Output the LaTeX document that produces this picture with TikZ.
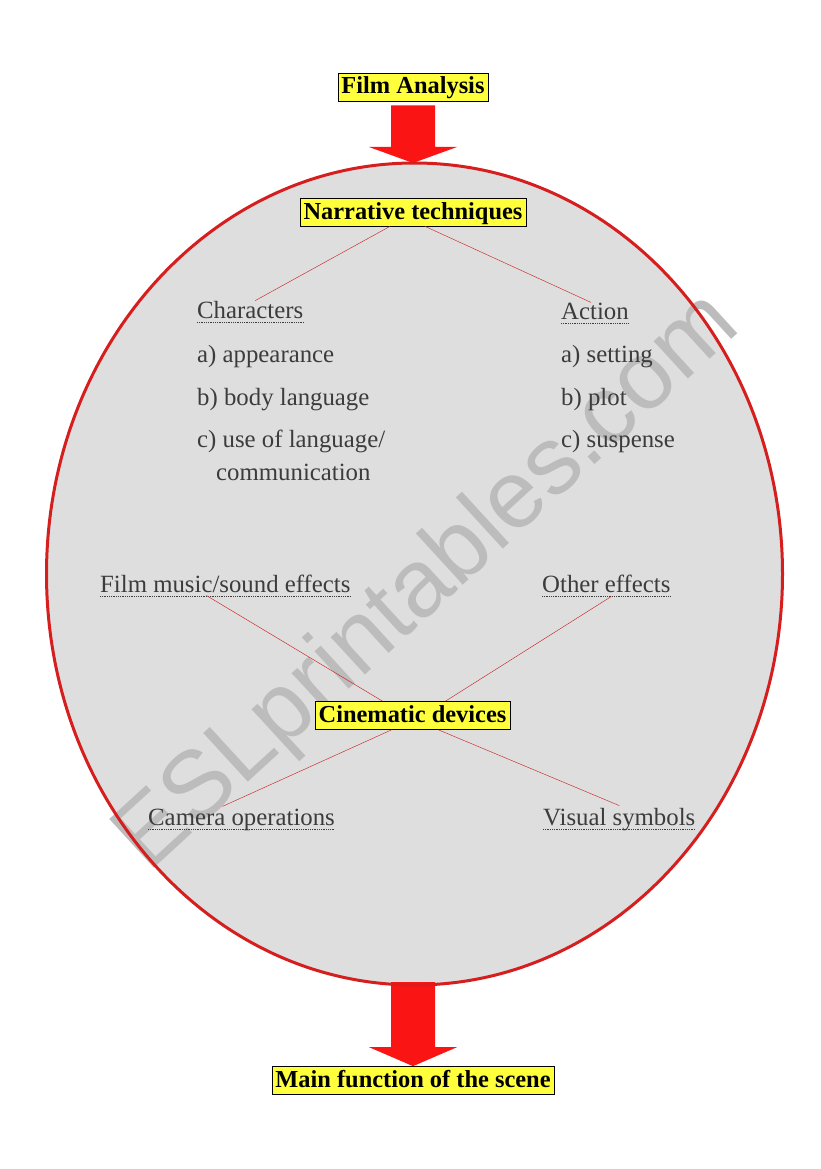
\documentclass[tikz,border=0pt]{standalone}
\usepackage{fontspec}
\setmainfont{Liberation Serif}
\newfontfamily\wmfont{Liberation Sans}
\usetikzlibrary{calc}
\definecolor{boxyellow}{RGB}{255,255,60}
\definecolor{ringred}{RGB}{214,30,30}
\definecolor{arrowred}{RGB}{250,20,20}
\definecolor{linkred}{RGB}{200,40,40}
\definecolor{txtgray}{RGB}{60,60,60}
\definecolor{wmgray}{RGB}{188,188,188}
\tikzset{
  titlebox/.style={draw=black, line width=0.7pt, fill=boxyellow,
    font=\bfseries\fontsize{24.4}{28}\selectfont, text=black,
    inner xsep=3.5pt, inner ysep=2pt, text height=19pt, text depth=5pt},
  uline/.style={draw=txtgray, densely dotted, line width=0.8pt},
  lab/.style={anchor=base west, inner sep=0pt, text=txtgray,
    font=\fontsize{24.8}{28}\selectfont,
    append after command={([yshift=-4pt]\tikzlastnode.base west) edge[uline] ([yshift=-4pt]\tikzlastnode.base east)}},
  item/.style={anchor=base west, inner sep=0pt, text=txtgray,
    font=\fontsize{24.8}{28}\selectfont},
  link/.style={draw=linkred, line width=0.45pt},
  bigarrow/.style={fill=arrowred}
}
\begin{document}
\begin{tikzpicture}[x=1pt,y=-1pt]
\useasboundingbox (0,0) rectangle (821,1169);
% ellipse fill
\fill[black!13] (414.5,574) ellipse [x radius=368, y radius=411];
% watermark
\node[rotate=42.5, text=wmgray, anchor=base west, font=\wmfont\fontsize{96}{98}\selectfont, inner sep=0pt] (wm) at (148,874) {ESLprintables.com};
% title nodes
\node[titlebox] (fa) at (413,87) {Film Analysis};
\node[titlebox] (nt) at (413,212) {Narrative techniques};
\node[titlebox] (cd) at (412.5,715.5) {Cinematic devices};
\node[titlebox] (mf) at (413,1080.5) {Main function of the scene};
\coordinate (etop) at (413,163);
\coordinate (ebot) at (413,985);
% arrows
\fill[bigarrow] ($(fa.south)+(-22,4)$) -- ($(fa.south)+(22,4)$) -- ($(etop)+(22,-16)$) -- ($(etop)+(44,-16)$) -- (etop) -- ($(etop)+(-44,-16)$) -- ($(etop)+(-22,-16)$) -- cycle;
\fill[bigarrow] ($(ebot)+(-22,-3)$) -- ($(ebot)+(22,-3)$) -- ($(mf.north)+(22,-19)$) -- ($(mf.north)+(44,-19)$) -- (mf.north) -- ($(mf.north)+(-44,-19)$) -- ($(mf.north)+(-22,-19)$) -- cycle;
% ellipse border
\draw[ringred, line width=3pt] (414.5,574) ellipse [x radius=368, y radius=411];
% labels
\node[lab] (ch) at (197,318) {Characters};
\node[item] (ch1) at (197,362) {a) appearance};
\node[item] (ch2) at (197,405) {b) body language};
\node[item] (ch3) at (197,447) {c) use of language/};
\node[item] (ch4) at (216,480) {communication};
\node[lab] (ac) at (561,319) {Action};
\node[item] (ac1) at (561,362) {a) setting};
\node[item] (ac2) at (561,405) {b) plot};
\node[item] (ac3) at (561,447) {c) suspense};
\node[lab] (fm) at (100,592) {Film music/sound effects};
\node[lab] (oe) at (542,592) {Other effects};
\node[lab] (co) at (148,825) {Camera operations};
\node[lab] (vs) at (543,825) {Visual symbols};
% links
\draw[link] ([xshift=-23pt]nt.south) -- ([xshift=5pt]ch.north);
\draw[link] ([xshift=12pt]nt.south) -- ([xshift=-4pt]ac.north);
\draw[link] ([xshift=-19pt,yshift=-3pt]fm.south) -- ([xshift=-30pt]cd.north);
\draw[link] ([xshift=5pt,yshift=-4pt]oe.south) -- ([xshift=33pt]cd.north);
\draw[link] ([xshift=-19pt,yshift=2pt]co.north) -- ([xshift=-21pt]cd.south);
\draw[link] ([yshift=2pt]vs.north) -- ([xshift=26pt]cd.south);
\end{tikzpicture}
\end{document}
